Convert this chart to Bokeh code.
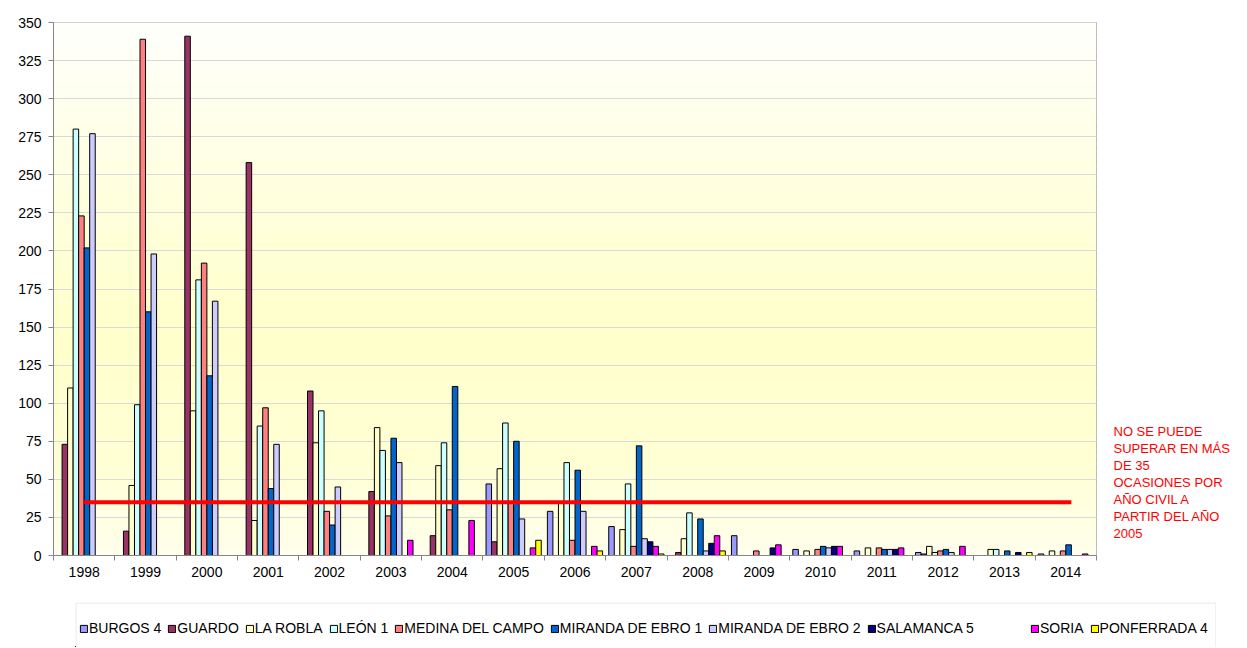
from bokeh.plotting import figure
from bokeh.models import (ColumnDataSource, Range1d, SingleIntervalTicker,
                          FixedTicker, Legend, LegendItem, Label,
                          BoxAnnotation, Spacer)
from bokeh.layouts import column, row
from bokeh.transform import dodge
from bokeh.embed import file_html
from bokeh.resources import INLINE
import numpy as np

# ---------------- data ----------------
YEARS = [str(y) for y in range(1998, 2015)]

SERIES = ["BURGOS 4", "GUARDO", "LA ROBLA", "LEÓN 1", "MEDINA DEL CAMPO",
          "MIRANDA DE EBRO 1", "MIRANDA DE EBRO 2", "SALAMANCA 5", "SORIA", "PONFERRADA 4"]

burgos_4          = [0, 0, 0, 0, 0, 0, 0, 47, 29, 19, 0, 13, 4, 3, 2, 0, 1]
guardo            = [73, 16, 341, 258, 108, 42, 13, 9, 0, 0, 2, 0, 0, 0, 1, 0, 0]
la_robla          = [110, 46, 95, 23, 74, 84, 59, 57, 35, 17, 11, 0, 3, 5, 6, 4, 3]
leon_1            = [280, 99, 181, 85, 95, 69, 74, 87, 61, 47, 28, 0, 0, 0, 2, 4, 0]
medina_del_campo  = [223, 339, 192, 97, 29, 26, 30, 35, 10, 6, 0, 3, 4, 5, 3, 0, 3]
miranda_de_ebro_1 = [202, 160, 118, 44, 20, 77, 111, 75, 56, 72, 24, 0, 6, 4, 4, 3, 7]
miranda_de_ebro_2 = [277, 198, 167, 73, 45, 61, 0, 24, 29, 11, 3, 0, 5, 4, 2, 0, 0]
salamanca_5       = [0, 0, 0, 0, 0, 0, 0, 0, 0, 9, 8, 5, 6, 4, 0, 2, 0]
soria             = [0, 0, 0, 0, 0, 10, 23, 5, 6, 6, 13, 7, 6, 5, 6, 0, 1]
ponferrada_4      = [0, 0, 0, 0, 0, 0, 0, 10, 3, 1, 3, 0, 0, 0, 0, 2, 0]

LIMIT = 35
NOTE = "NO SE PUEDE\nSUPERAR EN MÁS\nDE  35\nOCASIONES POR\nAÑO CIVIL A\nPARTIR DEL AÑO\n2005"

VALUES = [burgos_4, guardo, la_robla, leon_1, medina_del_campo,
          miranda_de_ebro_1, miranda_de_ebro_2, salamanca_5, soria, ponferrada_4]
COLORS = ["#9999FF", "#993366", "#FFFFCC", "#CCFFFF", "#FF8080",
          "#0066CC", "#CCCCFF", "#000080", "#FF00FF", "#FFFF00"]

FONT = "Liberation Sans"
GRAY = "#868686"

# ---------------- main chart ----------------
n = len(YEARS)
centers = [i + 0.5 for i in range(n)]          # category slots on a linear scale

p = figure(x_range=Range1d(0, n), y_range=Range1d(0, 350),
           frame_width=1043, frame_height=533,
           min_border_left=53, min_border_right=4,
           min_border_top=22, min_border_bottom=47,
           output_backend="svg", toolbar_location=None)

p.background_fill_color = "#FFFFE6"
p.border_fill_color = "white"
p.outline_line_color = "#A6A6A6"
p.outline_line_width = 1

# soft vertical gradient behind the bars (decoration only)
stops_v = [0, 60, 150, 250, 350]
stops_b = [236, 212, 203, 226, 252]
edges = np.linspace(0, 350, 71)
for lo, hi in zip(edges[:-1], edges[1:]):
    mid = 0.5 * (lo + hi)
    b = int(round(np.interp(mid, stops_v, stops_b)))
    p.add_layout(BoxAnnotation(bottom=lo, top=hi + 0.6, fill_color=(255, 255, b),
                               fill_alpha=1, line_alpha=0, level="image"))

# y axis / grid
p.xgrid.visible = False
p.ygrid.grid_line_color = "#D9D9D9"
p.ygrid.grid_line_width = 1
yax = p.yaxis[0]
yax.ticker = SingleIntervalTicker(interval=25, num_minor_ticks=0)
yax.axis_line_color = GRAY
yax.major_tick_line_color = GRAY
yax.major_tick_out = 5
yax.major_tick_in = 0
yax.minor_tick_line_color = None
yax.major_label_standoff = 7
yax.major_label_text_font = FONT
yax.major_label_text_font_size = "14px"
yax.major_label_text_color = "#000000"

# x axis: year labels at category centres, tick marks on category boundaries
xax = p.xaxis[0]
xax.ticker = FixedTicker(ticks=centers, minor_ticks=list(range(n + 1)))
xax.major_label_overrides = {c: y for c, y in zip(centers, YEARS)}
xax.axis_line_color = GRAY
xax.major_tick_line_color = None
xax.major_tick_out = 0
xax.major_tick_in = 0
xax.minor_tick_line_color = GRAY
xax.minor_tick_out = 5
xax.minor_tick_in = 0
xax.major_label_standoff = 6
xax.major_label_text_font = FONT
xax.major_label_text_font_size = "14px"
xax.major_label_text_color = "#000000"

# bars
data = {"year": YEARS, "pos": centers}
keys = []
for k, vals in enumerate(VALUES):
    key = f"s{k}"
    keys.append(key)
    data[key] = [v if v > 0 else float("nan") for v in vals]
src = ColumnDataSource(data)

BAR_W = 0.09
for k, key in enumerate(keys):
    p.vbar(x=dodge("pos", (k - 4.5) * BAR_W), top=key, bottom=0,
           width=BAR_W, source=src, fill_color=COLORS[k],
           line_color="#000000", line_width=1)

# limit line
p.line(x=[centers[0], centers[-1] + BAR_W], y=[LIMIT, LIMIT], line_color="#FF0000", line_width=4)

# ---------------- note on the right ----------------
note_w, note_h = 146, 602
pn = figure(width=note_w, height=note_h, x_range=Range1d(0, note_w), y_range=Range1d(0, note_h),
            min_border=0, output_backend="svg", toolbar_location=None)
pn.axis.visible = False
pn.grid.visible = False
pn.outline_line_color = None
pn.add_layout(Label(x=13, y=149, text=NOTE,
                    text_color="#FF0000", text_font=FONT, text_font_size="13px",
                    text_baseline="top", text_line_height=1.135))

# ---------------- legend strip ----------------
leg_w, leg_h = 1141, 45
pl = figure(width=leg_w, height=leg_h, x_range=Range1d(0, leg_w), y_range=Range1d(0, leg_h),
            min_border=0, output_backend="svg", toolbar_location=None)
pl.axis.visible = False
pl.grid.visible = False
pl.outline_line_color = None
pl.add_layout(BoxAnnotation(left=0.5, right=leg_w - 0.5, top=leg_h - 0.5, bottom=-20,
                            fill_color="white", fill_alpha=1,
                            line_color="#A0A0A0", line_width=1))

# swatch renderers for the legend keys (placed outside the strip's visible range)
swatches = [pl.vbar(x=[-100], top=[1], width=1, fill_color=COLORS[k],
                    line_color="#000000", line_width=1) for k in range(len(SERIES))]
items = [LegendItem(label=SERIES[k], renderers=[swatches[k]]) for k in range(len(SERIES))]

def make_legend(its, loc):
    return Legend(items=its, orientation="horizontal", location=loc,
                  label_text_font=FONT, label_text_font_size="14px",
                  label_text_color="#000000",
                  glyph_width=9, glyph_height=9, label_standoff=1, spacing=6,
                  padding=0, margin=0, label_height=14,
                  border_line_color=None, background_fill_alpha=0)

pl.add_layout(make_legend(items[:8], (4, 11)), "center")
pl.add_layout(make_legend(items[8:], (955, 11)), "center")

layout = column(row(p, pn), row(Spacer(width=75, height=leg_h), pl))

open("out.html", "w").write(file_html(layout, INLINE))
